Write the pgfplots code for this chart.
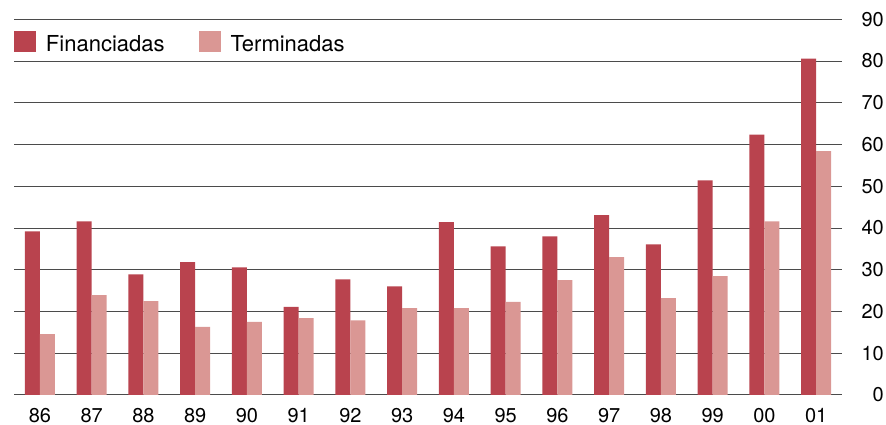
\documentclass[border=0pt]{standalone}
\usepackage{fontspec}
\setmainfont{TeX Gyre Heros}
\usepackage{pgfplots}
\usepackage{pgfplotstable}
\pgfplotsset{compat=1.18}
\definecolor{fin}{RGB}{185,67,78}
\definecolor{ter}{RGB}{218,151,148}
\definecolor{gridc}{RGB}{75,75,75}
\pgfplotstableread{
x F T
0 39.2 14.6
1 41.6 23.9
2 28.9 22.5
3 31.8 16.3
4 30.6 17.5
5 21.1 18.4
6 27.7 17.9
7 26.0 20.8
8 41.4 20.8
9 35.6 22.3
10 38.0 27.5
11 43.1 33.0
12 36.1 23.2
13 51.4 28.5
14 62.4 41.6
15 80.6 58.4
}\data
\begin{document}
\begin{tikzpicture}
\begin{axis}[
 scale only axis, width=828pt, height=375.7pt,
 xmin=-0.5, xmax=15.5, ymin=0, ymax=90,
 ybar=0pt, bar width=15pt,
 xtick={0,...,15},
 xticklabels={86,87,88,89,90,91,92,93,94,95,96,97,98,99,00,01},
 ytick={0,10,...,90},
 yticklabel pos=right,
 major tick length=0pt,
 axis line style={draw=none},
 ymajorgrids, grid style={gridc, line width=1pt},
 tick label style={font=\fontsize{20}{24}\selectfont, inner sep=0pt},
 xticklabel style={anchor=north, yshift=-13pt},
 yticklabel style={anchor=east, xshift=42pt},
 /pgf/number format/assume math mode=true,
 legend columns=2,
 legend style={at={(0,1)}, anchor=north west, yshift=-12pt, draw=none, fill=none,
   inner sep=0pt, outer sep=0pt, font=\fontsize{22}{26}\selectfont,
   nodes={inner sep=0pt}, column sep=10pt,
   /tikz/every even column/.append style={column sep=34pt}},
]
\addplot[fill=fin, draw=none, legend image code/.code={\fill[fin] (0pt,-8pt) rectangle (22pt,13pt);}] table[x=x,y=F]{\data};
\addplot[fill=ter, draw=none, legend image code/.code={\fill[ter] (0pt,-8pt) rectangle (22pt,13pt);}] table[x=x,y=T]{\data};
\legend{Financiadas, Terminadas}
\end{axis}
\pgfresetboundingbox
\useasboundingbox ([shift={(-14pt,-30pt)}]current axis.south west) rectangle ([shift={(44pt,19.3pt)}]current axis.north east);
\end{tikzpicture}
\end{document}
